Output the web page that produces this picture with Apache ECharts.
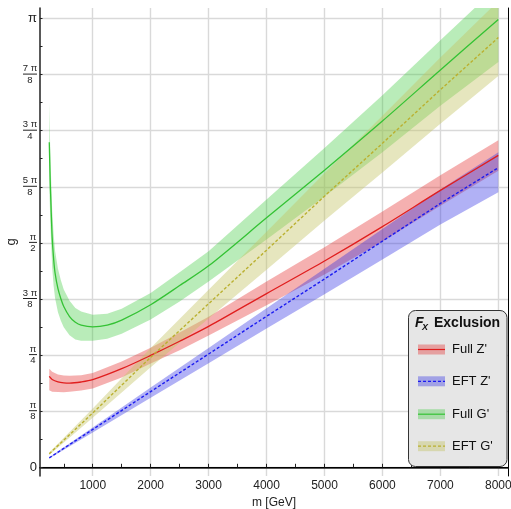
<!DOCTYPE html>
<html>
<head>
<meta charset="utf-8">
<script src="https://cdn.jsdelivr.net/npm/echarts@6/dist/echarts.min.js"></script>
<style>
  html, body { margin: 0; padding: 0; background: #ffffff; }
  #chart { width: 511px; height: 509px; }
</style>
</head>
<body>
<div id="chart"></div>
<script>
// ---- Full Z' (solid red) : central curve and band edges ----
const fullZMass = [250, 300, 400, 500, 600, 800, 1000, 1500, 2000, 2500, 3000, 4000, 5000, 6000, 7000, 8000];
const fullZ     = [0.636, 0.615, 0.598, 0.591, 0.589, 0.597, 0.613, 0.690, 0.783, 0.882, 0.986, 1.216, 1.444, 1.685, 1.938, 2.183];
const fullZHigh = [0.690, 0.668, 0.650, 0.642, 0.640, 0.645, 0.660, 0.740, 0.836, 0.943, 1.054, 1.300, 1.540, 1.790, 2.045, 2.290];
const fullZLow  = [0.540, 0.528, 0.527, 0.526, 0.528, 0.537, 0.552, 0.628, 0.727, 0.820, 0.922, 1.135, 1.350, 1.580, 1.830, 2.075];

// ---- EFT Z' (dashed blue) ----
const eftZMass = [250, 1000, 2000, 3000, 4000, 5000, 6000, 7000, 8000];
const eftZ     = [0.066, 0.265, 0.530, 0.793, 1.057, 1.318, 1.583, 1.847, 2.097];
const eftZHigh = [0.070, 0.279, 0.558, 0.835, 1.114, 1.389, 1.668, 1.945, 2.206];
const eftZLow  = [0.061, 0.244, 0.487, 0.728, 0.972, 1.212, 1.455, 1.700, 1.926];

// ---- Full G' (solid green) ----
const fullGMass = [250, 265, 280, 300, 325, 350, 400, 450, 500, 600, 700, 800, 1000, 1250, 1500, 2000, 2500, 3000, 4000, 5000, 6000, 7000, 8000];
const fullG     = [2.276, 2.020, 1.830, 1.610, 1.460, 1.360, 1.250, 1.180, 1.125, 1.055, 1.015, 0.995, 0.983, 0.995, 1.030, 1.138, 1.272, 1.410, 1.746, 2.080, 2.424, 2.781, 3.135];
const fullGHigh = [2.550, 2.260, 2.040, 1.800, 1.630, 1.515, 1.390, 1.310, 1.245, 1.165, 1.115, 1.090, 1.068, 1.075, 1.110, 1.220, 1.365, 1.512, 1.875, 2.235, 2.605, 2.990, 3.370];
const fullGLow  = [1.980, 1.760, 1.595, 1.400, 1.270, 1.185, 1.085, 1.025, 0.980, 0.925, 0.895, 0.885, 0.885, 0.900, 0.935, 1.035, 1.160, 1.300, 1.595, 1.895, 2.205, 2.530, 2.837];

// ---- EFT G' (dashed olive) ----
const eftGMass = [250, 1000, 2000, 3000, 4000, 5000, 6000, 7000, 8000];
const eftG     = [0.095, 0.380, 0.770, 1.145, 1.520, 1.898, 2.268, 2.643, 3.008];
const eftGHigh = [0.103, 0.412, 0.835, 1.242, 1.649, 2.059, 2.461, 2.868, 3.264];
const eftGLow  = [0.086, 0.346, 0.701, 1.042, 1.383, 1.727, 2.064, 2.405, 2.739];

// ---- axes ----
const xMajorTicks = [1000, 2000, 3000, 4000, 5000, 6000, 7000, 8000];
const xAllTicks = [500, 1000, 1500, 2000, 2500, 3000, 3500, 4000, 4500, 5000, 5500, 6000, 6500, 7000, 7500, 8000];
const yTickLabels = ['0', 'π/8', 'π/4', '3π/8', 'π/2', '5π/8', '3π/4', '7π/8', 'π'];
const yMajorTicks = yTickLabels.map((_, i) => i * Math.PI / 8);
const yAllTicks = Array.from({ length: 17 }, (_, i) => i * Math.PI / 16);

const legendNames = ["Full Z'", "EFT Z'", "Full G'", "EFT G'"];

const COLORS = {
  fullZ: { line: '#e01e1e', band: 'rgba(228,40,40,0.37)' },
  eftZ:  { line: '#1a1af0', band: 'rgba(40,40,228,0.36)' },
  fullG: { line: '#34c234', band: 'rgba(50,200,50,0.34)' },
  eftG:  { line: '#bab030', band: 'rgba(195,195,100,0.42)' }
};

const FONT = 'Liberation Sans, Arial, sans-serif';
const INK = '#222';

function bandSeries(name, ms, lo, hi, fill) {
  return {
    type: 'custom',
    name: name + ' band',
    silent: true,
    data: ms.map((m, i) => [m, lo[i], hi[i]]),
    encode: { x: 0, y: [1, 2] },
    renderItem: function (params, api) {
      if (params.dataIndex !== 0) return null;
      const pts = [];
      for (let i = 0; i < ms.length; i++) pts.push(api.coord([ms[i], hi[i]]));
      for (let i = ms.length - 1; i >= 0; i--) pts.push(api.coord([ms[i], lo[i]]));
      const cs = params.coordSys;
      return {
        type: 'polygon',
        shape: { points: pts },
        style: { fill: fill, stroke: null },
        clipPath: { type: 'rect', shape: { x: cs.x, y: cs.y, width: cs.width, height: cs.height } }
      };
    }
  };
}

function lineSeries(name, ms, gs, color, dashed, smooth) {
  return {
    type: 'line',
    name: name,
    data: ms.map((m, i) => [m, gs[i]]),
    showSymbol: false,
    symbol: 'none',
    smooth: smooth,
    silent: true,
    lineStyle: { color: color, width: dashed ? 1.4 : 1.3, type: dashed ? [3, 2] : 'solid' }
  };
}

function yLabel(v) {
  const i = Math.round(v / (Math.PI / 8));
  const txt = yTickLabels[i];
  if (txt === undefined) return '';
  if (txt.indexOf('/') < 0) return '{big|' + txt + '}';
  const parts = txt.split('/');
  const num = parts[0].replace(/(\d)π/, '$1 π');
  const wide = num.length > 1;
  const s = wide ? 'w' : 'n';
  return '{n' + s + '|' + num + '}\n{b' + s + '| }\n{d' + s + '|' + parts[1] + '}';
}

const fracText = { fontSize: 9.5, fontFamily: FONT, color: INK, align: 'center', lineHeight: 9 };
const denText = { fontSize: 9.5, fontFamily: FONT, color: INK, align: 'center', lineHeight: 10 };

const chart = echarts.init(document.getElementById('chart'), null, { renderer: 'canvas' });

const option = {
  animation: false,
  backgroundColor: '#ffffff',
  grid: { left: 40, right: 3, top: 8, bottom: 33, containLabel: false, outerBoundsMode: 'none' },
  xAxis: [
    {
      type: 'value', min: 90, max: 8167, position: 'bottom',
      name: 'm [GeV]', nameLocation: 'middle', nameGap: 21, nameMoveOverlap: false,
      nameTextStyle: { fontSize: 12, fontFamily: FONT, color: INK },
      axisLine: { show: true, lineStyle: { color: INK, width: 1.5 } },
      axisTick: { show: true, inside: true, length: 3.5, customValues: xAllTicks, lineStyle: { color: INK, width: 1 } },
      axisLabel: { show: true, customValues: xMajorTicks, margin: 4, fontSize: 12, fontFamily: FONT, color: INK,
                   formatter: function (v) { return String(Math.round(v)); } },
      splitLine: { show: false }
    },
    {
      type: 'value', min: 90, max: 8167, position: 'top',
      axisLine: { show: true, lineStyle: { color: '#000', width: 1 } },
      axisTick: { show: false, customValues: xMajorTicks },
      axisLabel: { show: false, customValues: xMajorTicks },
      splitLine: { show: true, lineStyle: { color: '#d9d9d9', width: 1.4 } }
    }
  ],
  yAxis: [
    {
      type: 'value', min: -0.061, max: 3.215, position: 'left',
      name: 'g', nameLocation: 'middle', nameGap: 22, nameRotate: 90, nameMoveOverlap: false,
      nameTextStyle: { fontSize: 13, fontFamily: FONT, color: INK },
      axisLine: { show: true, lineStyle: { color: INK, width: 1.5 } },
      axisTick: { show: true, inside: true, length: 2.5, customValues: yAllTicks, lineStyle: { color: INK, width: 1 } },
      axisLabel: {
        show: true, customValues: yMajorTicks, margin: 3, align: 'right',
        formatter: yLabel,
        rich: {
          big: { fontSize: 13, fontFamily: FONT, color: INK },
          nw: Object.assign({ width: 14 }, fracText),
          nn: Object.assign({ width: 8 }, fracText),
          bw: { width: 14, height: 1, lineHeight: 2, backgroundColor: INK },
          bn: { width: 8, height: 1, lineHeight: 2, backgroundColor: INK },
          dw: Object.assign({ width: 14 }, denText),
          dn: Object.assign({ width: 8 }, denText)
        }
      },
      splitLine: { show: false }
    },
    {
      type: 'value', min: -0.061, max: 3.215, position: 'right',
      axisLine: { show: true, lineStyle: { color: '#000', width: 1 } },
      axisTick: { show: false, customValues: yMajorTicks },
      axisLabel: { show: false, customValues: yMajorTicks },
      splitLine: { show: true, lineStyle: { color: '#d9d9d9', width: 1.4 } }
    }
  ],
  series: [
    bandSeries(legendNames[0], fullZMass, fullZLow, fullZHigh, COLORS.fullZ.band),
    lineSeries(legendNames[0], fullZMass, fullZ, COLORS.fullZ.line, false, 0.3),
    bandSeries(legendNames[1], eftZMass, eftZLow, eftZHigh, COLORS.eftZ.band),
    lineSeries(legendNames[1], eftZMass, eftZ, COLORS.eftZ.line, true, false),
    bandSeries(legendNames[2], fullGMass, fullGLow, fullGHigh, COLORS.fullG.band),
    lineSeries(legendNames[2], fullGMass, fullG, COLORS.fullG.line, false, 0.3),
    bandSeries(legendNames[3], eftGMass, eftGLow, eftGHigh, COLORS.eftG.band),
    lineSeries(legendNames[3], eftGMass, eftG, COLORS.eftG.line, true, false)
  ]
};

// Legend panel: title plus one swatch (band with its line) per series
const keys = ['fullZ', 'eftZ', 'fullG', 'eftG'];
const rowY = [349.5, 381.3, 414.2, 446.2];
const legendEls = [
  {
    type: 'rect', z: 100,
    shape: { x: 408.5, y: 310.5, width: 98.5, height: 156, r: 7 },
    style: { fill: '#e6e6e6', stroke: '#333', lineWidth: 1 }
  },
  {
    type: 'text', z: 101, x: 415, y: 323,
    style: { text: 'F', font: 'italic bold 14px ' + FONT, fill: '#111', verticalAlign: 'middle' }
  },
  {
    type: 'text', z: 101, x: 422, y: 328,
    style: { text: 'X', font: 'italic bold 9px ' + FONT, fill: '#111', verticalAlign: 'middle' }
  },
  {
    type: 'text', z: 101, x: 434, y: 323,
    style: { text: 'Exclusion', font: 'bold 14px ' + FONT, fill: '#111', verticalAlign: 'middle' }
  }
];
keys.forEach((k, i) => {
  const y = rowY[i];
  const dashed = (k === 'eftZ' || k === 'eftG');
  legendEls.push({
    type: 'rect', z: 101,
    shape: { x: 418, y: y - 5, width: 27, height: 10 },
    style: { fill: COLORS[k].band }
  });
  legendEls.push({
    type: 'line', z: 102,
    shape: { x1: 418, y1: y, x2: 445, y2: y },
    style: { stroke: COLORS[k].line, lineWidth: 1.2, lineDash: dashed ? [3, 2] : null }
  });
  legendEls.push({
    type: 'text', z: 102, x: 452, y: y,
    style: { text: legendNames[i], font: '13px ' + FONT, fill: '#111', verticalAlign: 'middle' }
  });
});
option.graphic = { elements: legendEls };

chart.setOption(option);
</script>
</body>
</html>
